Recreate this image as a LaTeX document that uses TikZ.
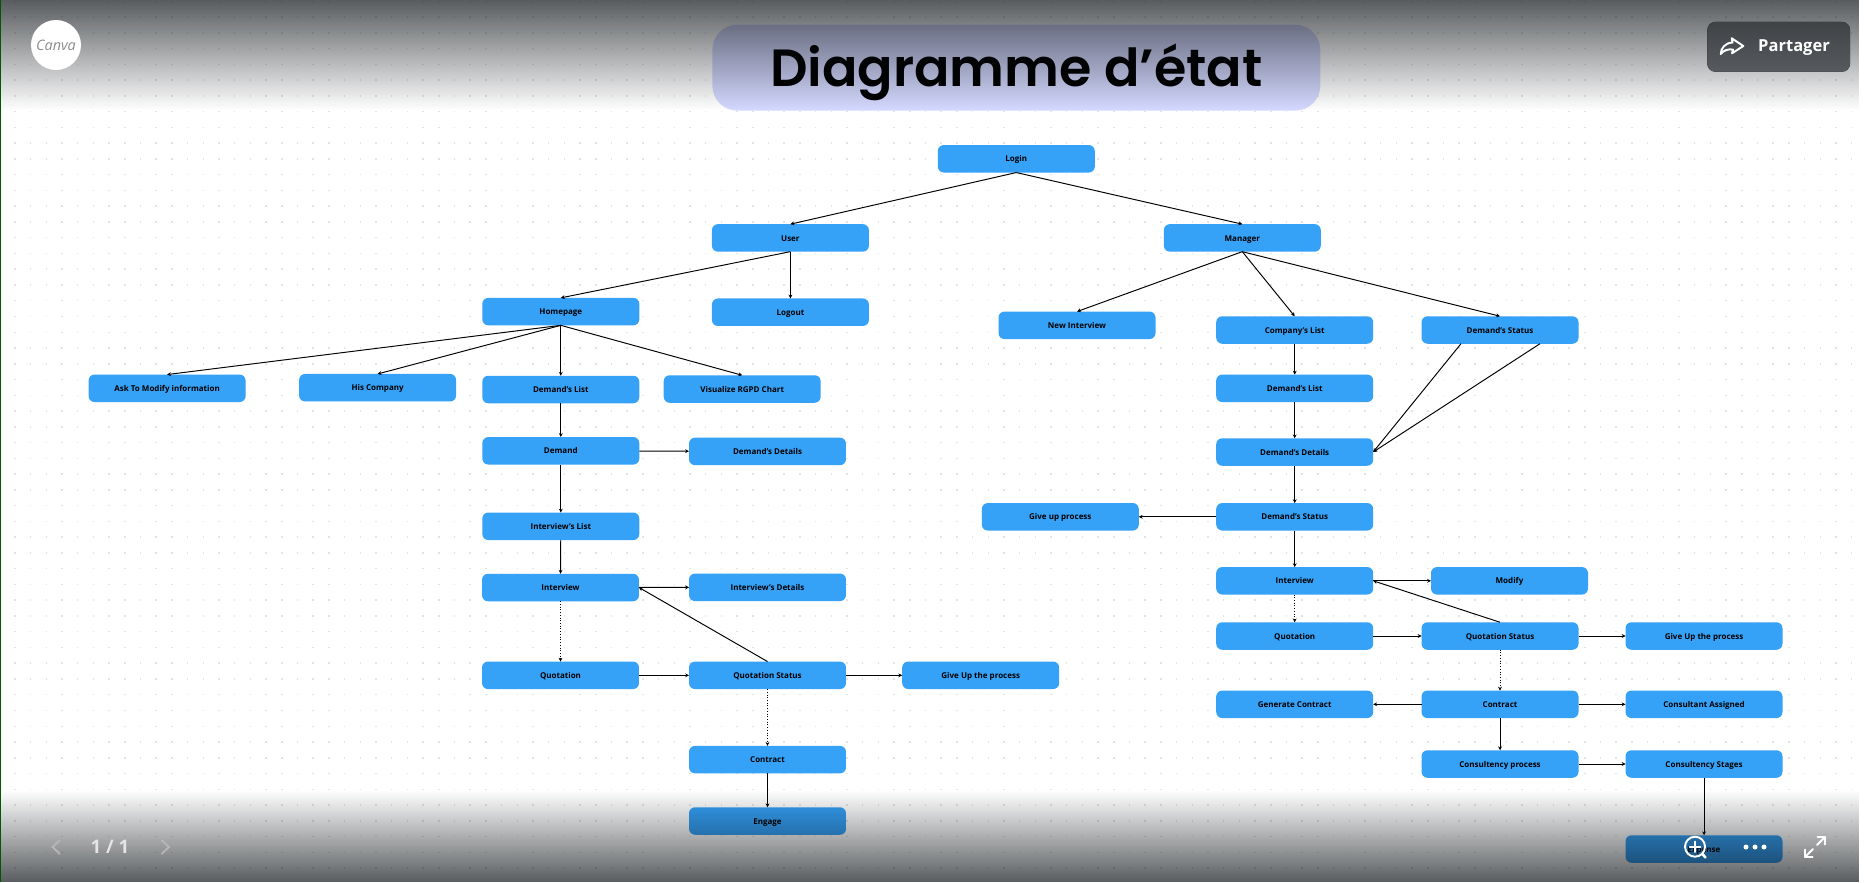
\documentclass[tikz,border=0pt]{standalone}
\usepackage{fontspec}
\setmainfont{Open Sans}
\newfontfamily\titlefont{Poppins SemiBold}
\usetikzlibrary{arrows.meta,fadings}
\definecolor{boxblue}{HTML}{35A1F7}
\definecolor{titlelav}{HTML}{D5D9FF}
\definecolor{shadeink}{HTML}{070C10}
\definecolor{sharetop}{HTML}{404346}
\definecolor{sharebot}{HTML}{575A5E}
\tikzfading[name=fadetop,top color=transparent!33,bottom color=transparent!100]
\tikzfading[name=fadebottom,top color=transparent!100,bottom color=transparent!33]
\tikzset{
  statebox/.style={fill=boxblue,rounded corners=3.4pt,minimum width=3.14cm,minimum height=.55cm,inner sep=0pt,outer sep=0pt,text height=4.6pt,text depth=1pt,font=\fontsize{4.55}{6}\selectfont\bfseries,text=black},
  titlebox/.style={fill=titlelav,rounded corners=.5cm,minimum width=12.16cm,minimum height=1.72cm,inner sep=0pt,outer sep=0pt,text height=23pt,text depth=1.1pt,font=\titlefont\fontsize{29.8}{36}\selectfont},
  dotrow/.style={draw=black!11,line width=.85pt,dash pattern=on .85pt off 8.085pt},
  uiline/.style={draw=white,line width=1.1pt,line cap=round,line join=round}
}
\begin{document}
\begin{tikzpicture}[x=.02cm,y=-.02cm,>={Stealth[length=2.2pt,width=2.2pt]},line width=.55pt]
\useasboundingbox (0,0) rectangle (1865,882);
\clip (0,0) rectangle (1865,882);
\foreach \r in {0,...,55}
  \draw[dotrow] (14.2,{1.3+\r*15.76}) -- (1865,{1.3+\r*15.76});

\node[titlebox] (Title) at (1016.3,67.7) {Diagramme d’état};

\node[statebox] (Login) at (1016.3,158.8) {Login};
\node[statebox] (User) at (790.4,237.9) {User};
\node[statebox] (Manager) at (1242.3,237.9) {Manager};

\node[statebox] (Home) at (560.8,311.6) {Homepage};
\node[statebox] (Logout) at (790.4,312.2) {Logout};
\node[statebox] (Ask) at (167.1,388.3) {Ask To Modify information};
\node[statebox] (Company) at (377.6,387.7) {His Company};
\node[statebox] (DList) at (560.8,389.5) {Demand's List};
\node[statebox] (Rgpd) at (742.2,389) {Visualize RGPD Chart};
\node[statebox] (Demand) at (560.8,450.8) {Demand};
\node[statebox] (DDetails) at (767.5,451.4) {Demand's Details};
\node[statebox] (IList) at (560.8,526.3) {Interview's List};
\node[statebox] (Inter) at (560.5,587.5) {Interview};
\node[statebox] (IDetails) at (767.5,587.3) {Interview's Details};
\node[statebox] (Quote) at (560.5,675.3) {Quotation};
\node[statebox] (QStatus) at (767.5,675.3) {Quotation Status};
\node[statebox] (GiveUp) at (980.7,675.3) {Give Up the process};
\node[statebox] (Contract) at (767.5,759.6) {Contract};
\node[statebox] (Engage) at (767.5,821) {Engage};

\node[statebox] (NewInter) at (1077,325.3) {New Interview};
\node[statebox] (CList) at (1294.7,330) {Company's List};
\node[statebox] (MStatus) at (1500,330) {Demand's Status};
\node[statebox] (MDList) at (1294.7,388.3) {Demand's List};
\node[statebox] (MDDetails) at (1294.7,452) {Demand's Details};
\node[statebox] (MDStatus) at (1294.7,516.8) {Demand's Status};
\node[statebox] (MGiveUpA) at (1060.3,516.8) {Give up process};
\node[statebox] (MInter) at (1294.7,580.8) {Interview};
\node[statebox] (Modify) at (1509.5,580.8) {Modify};
\node[statebox] (MQuote) at (1294.7,636) {Quotation};
\node[statebox] (MQStatus) at (1500,636) {Quotation Status};
\node[statebox] (MGiveUpB) at (1704,636) {Give Up the process};
\node[statebox] (Generate) at (1294.7,704.3) {Generate Contract};
\node[statebox] (MContract) at (1500,704.3) {Contract};
\node[statebox] (Assigned) at (1704,704.3) {Consultant Assigned};
\node[statebox] (Process) at (1500,764) {Consultency process};
\node[statebox] (Stages) at (1704,764) {Consultency Stages};
\node[statebox] (Expense) at (1704,849) {Expense};

\coordinate (MStatusA) at (1461,343.7);
\coordinate (MStatusB) at (1540,343.7);

\draw[->] (Login.south) -- (User.north);
\draw[->] (Login.south) -- (Manager.north);
\draw[->] (User.south) -- (Home.north);
\draw[->] (User.south) -- (Logout.north);
\draw[->] (Home.south) -- (Ask.north);
\draw[->] (Home.south) -- (Company.north);
\draw[->] (Home.south) -- (DList.north);
\draw[->] (Home.south) -- (Rgpd.north);
\draw[->] (DList) -- (Demand);
\draw[->] (Demand) -- (DDetails);
\draw[->] (Demand) -- (IList);
\draw[->] (IList) -- (Inter);
\draw[->] (Inter) -- (IDetails);
\draw[->,densely dotted] (Inter) -- (Quote);
\draw[->] (Quote) -- (QStatus);
\draw[->] (QStatus.north) -- (Inter.east);
\draw[->] (QStatus) -- (GiveUp);
\draw[->,densely dotted] (QStatus) -- (Contract);
\draw[->] (Contract) -- (Engage);

\draw[->] (Manager.south) -- (NewInter.north);
\draw[->] (Manager.south) -- (CList.north);
\draw[->] (Manager.south) -- (MStatus.north);
\draw[->] (CList) -- (MDList);
\draw[->] (MDList) -- (MDDetails);
\draw[->] (MStatusA) -- (MDDetails.east);
\draw[->] (MStatusB) -- (MDDetails.east);
\draw[->] (MDDetails) -- (MDStatus);
\draw[->] (MDStatus) -- (MGiveUpA);
\draw[->] (MDStatus) -- (MInter);
\draw[->] (MInter) -- (Modify);
\draw[->,densely dotted] (MInter) -- (MQuote);
\draw[->] (MQuote) -- (MQStatus);
\draw[->] (MQStatus.north) -- (MInter.east);
\draw[->] (MQStatus) -- (MGiveUpB);
\draw[->,densely dotted] (MQStatus) -- (MContract);
\draw[->] (MContract) -- (Generate);
\draw[->] (MContract) -- (Assigned);
\draw[->] (MContract) -- (Process);
\draw[->] (Process) -- (Stages);
\draw[->] (Stages) -- (Expense);

\fill[shadeink,path fading=fadetop] (0,0) rectangle (1865,110);
\fill[shadeink,path fading=fadebottom] (0,790) rectangle (1865,882);
\fill[black!50!green!70!black] (0,0) rectangle (1.4,882);

\fill[white] (56,45) circle (25);
\node[font=\rmfamily\itshape\fontsize{8.2}{9}\selectfont,text=black!45,inner sep=0pt] (Canva) at (56,45) {Canva};

\fill[rounded corners=4.5pt,top color=sharetop,bottom color=sharebot] (1707.3,22) rectangle (1850,71.7);
\node[font=\fontsize{9.4}{12}\selectfont\bfseries,text=white,inner sep=0pt] (Share) at (1794,48) {Partager};
\draw[uiline] (1743.3,46) -- (1731.7,38.3) -- (1732.5,42.5) .. controls (1725,43) and (1721,48) .. (1720.7,54) .. controls (1724,50) and (1728,49) .. (1733,49.5) -- (1732,53.3) -- cycle;

\draw[draw=white!72!black,line width=1pt] (60,840) -- (52.5,847) -- (60,854);
\draw[draw=white!72!black,line width=1pt] (161.5,840) -- (169,847) -- (161.5,854);
\node[font=\fontsize{10.6}{12}\selectfont\bfseries,text=white!90!black,inner sep=0pt] (Pages) at (110,847) {1 / 1};

\draw[uiline] (1695,846.7) circle (10);
\draw[uiline] (1695,841.5) -- (1695,852);
\draw[uiline] (1689.7,846.7) -- (1700.3,846.7);
\draw[uiline,line width=1.5pt] (1702.2,853.9) -- (1705.5,857.5);
\foreach \d in {1746,1755,1764}
  \fill[white] (\d,847) circle (2.5);
\draw[uiline] (1817.5,837) -- (1825,837) -- (1825,844.5);
\draw[uiline] (1825,837) -- (1817,845);
\draw[uiline] (1805,849.5) -- (1805,857) -- (1812.5,857);
\draw[uiline] (1805,857) -- (1813,849);
\end{tikzpicture}
\end{document}
